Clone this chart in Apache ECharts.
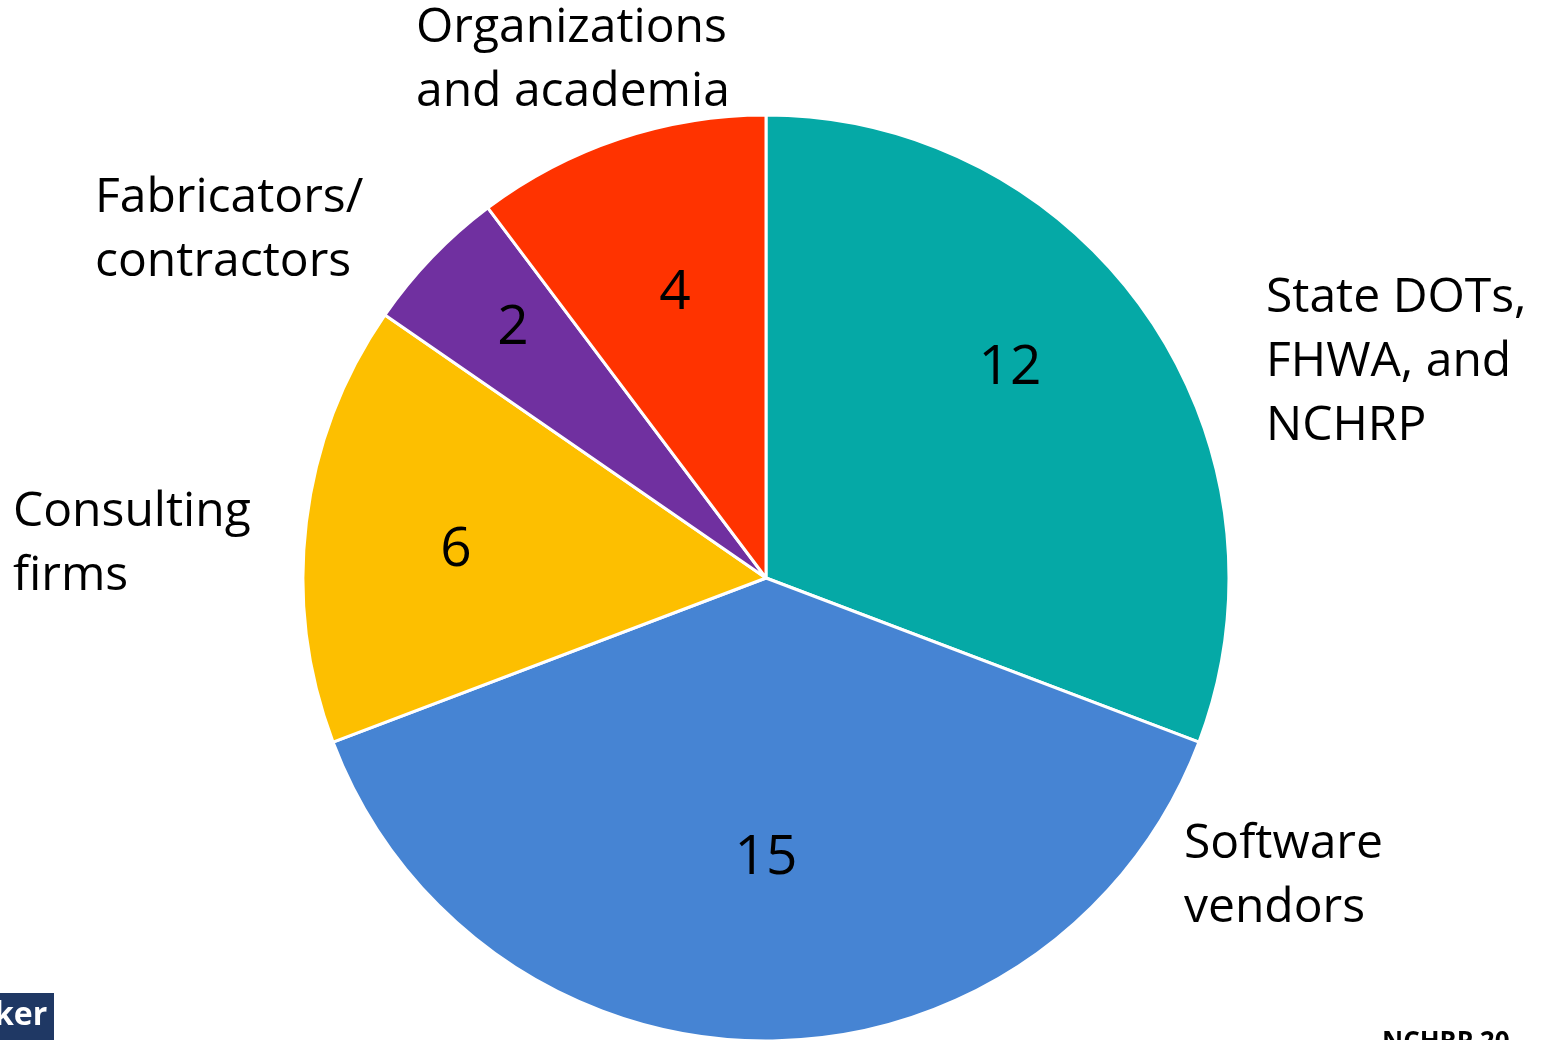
<!DOCTYPE html>
<html>
<head>
<meta charset="utf-8">
<style>
  html, body { margin: 0; padding: 0; background: #fff; }
  #main { width: 1541px; height: 1040px; }
</style>
<script src="https://cdn.jsdelivr.net/npm/echarts@6/dist/echarts.min.js"></script>
</head>
<body>
<div id="main"></div>
<script>
// categories and values, clockwise from 12 o'clock
var cats = ['State DOTs,\nFHWA, and\nNCHRP', 'Software\nvendors', 'Consulting\nfirms', 'Fabricators/\ncontractors', 'Organizations\nand academia'];
var vals = [12, 15, 6, 2, 4];
var colors = ['#05A9A6', '#4684D3', '#FDBF00', '#7030A0', '#FF3300'];

// label spots (layout only)
var innerPos = [[1010, 368], [766, 858], [456, 550], [513, 328], [675, 293]];
var outerPos = [[1266, 362], [1184, 876], [13, 544], [95, 230], [416, 60]];

var font = '"Open Sans", Lato, sans-serif';

var myChart = echarts.init(document.getElementById('main'));

var data = [];
var ghost = [];
for (var i = 0; i < cats.length; i++) {
    data.push({name: cats[i], value: vals[i], itemStyle: {color: colors[i]}});
    ghost.push({name: cats[i], value: vals[i]});
}

var option = {
    animation: false,
    series: [
        {
            type: 'pie',
            center: [766, 578],
            radius: [0, 463],
            startAngle: 90,
            clockwise: true,
            silent: true,
            itemStyle: {borderColor: '#fff', borderWidth: 3},
            label: {
                position: 'inside',
                formatter: '{c}',
                color: '#000',
                fontSize: 55,
                fontFamily: font
            },
            labelLayout: function (p) {
                return {x: innerPos[p.dataIndex][0], y: innerPos[p.dataIndex][1], align: 'center', verticalAlign: 'middle'};
            },
            data: data
        },
        {
            type: 'pie',
            center: [766, 578],
            radius: [0, 463],
            startAngle: 90,
            clockwise: true,
            silent: true,
            itemStyle: {color: 'rgba(0,0,0,0)'},
            label: {
                position: 'outside',
                formatter: '{b}',
                color: '#000',
                fontSize: 48,
                lineHeight: 64,
                align: 'left',
                fontFamily: font
            },
            labelLine: {show: false},
            labelLayout: function (p) {
                return {x: outerPos[p.dataIndex][0], y: outerPos[p.dataIndex][1], align: 'left', verticalAlign: 'middle'};
            },
            data: ghost
        }
    ],
    graphic: [
        {type: 'rect', left: 0, top: 993, shape: {width: 54, height: 47}, style: {fill: '#1F3864'}, z: 10},
        {type: 'text', left: -6, top: 1000, style: {text: 'ker', fill: '#fff', font: 'bold 32px ' + font}, z: 11},
        {type: 'text', left: 1382, top: 1030, style: {text: 'NCHRP 20', fill: '#000', font: 'bold 26px ' + font}, z: 11}
    ]
};

myChart.setOption(option);
</script>
</body>
</html>
